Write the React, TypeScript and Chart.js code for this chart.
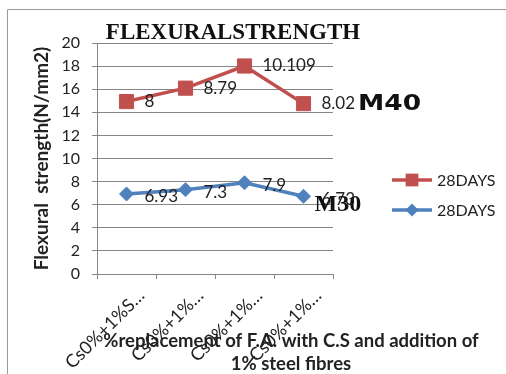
import React, { useEffect, useRef } from 'react';
import { Chart, registerables } from 'chart.js';

Chart.register(...registerables);

const categories = ['Cs0%+1%S…', 'Cs0%+1%…', 'Cs0%+1%…', 'Cs0%+1%…'];
const m30Values = [6.93, 7.3, 7.9, 6.73];
const m40Values = [8, 8.79, 10.109, 8.02];
const seriesNames = ['28DAYS', '28DAYS'];
const mixLabels = ['M30', 'M40'];
const yMin = 0;
const yMax = 20;
const yStep = 2;
const chartTitle = 'FLEXURALSTRENGTH';
const yTitle = 'Flexural  strength(N/mm2)';
const xTitleLines = ['%replacement of F.A. with C.S and addition of', '1% steel fibres'];

const BLUE = '#4F81BD';
const RED = '#C0504D';
const GRID = '#868686';
const TEXT = '#222222';
const SANS = 'Lato, "Open Sans", sans-serif';

function drawMarker(ctx: CanvasRenderingContext2D, style: string, x: number, y: number, r: number, color: string) {
  ctx.save();
  ctx.fillStyle = color;
  ctx.beginPath();
  if (style === 'rect') {
    const s = r * Math.SQRT1_2;
    ctx.rect(x - s, y - s, 2 * s, 2 * s);
  } else {
    ctx.moveTo(x, y - r);
    ctx.lineTo(x + r, y);
    ctx.lineTo(x, y + r);
    ctx.lineTo(x - r, y);
    ctx.closePath();
  }
  ctx.fill();
  ctx.restore();
}

const decorPlugin = {
  id: 'decor',
  beforeDraw(chart: any) {
    const ctx = chart.ctx;
    ctx.save();
    ctx.fillStyle = '#ffffff';
    ctx.fillRect(0, 0, chart.width, chart.height);
    ctx.strokeStyle = '#9a9a9a';
    ctx.lineWidth = 1;
    ctx.beginPath();
    ctx.moveTo(7.5, chart.height);
    ctx.lineTo(7.5, 9.5);
    ctx.lineTo(chart.width, 9.5);
    ctx.stroke();
    ctx.restore();
  },
  afterDatasetsDraw(chart: any) {
    const ctx = chart.ctx;
    ctx.save();
    ctx.font = `17px ${SANS}`;
    ctx.fillStyle = TEXT;
    ctx.textAlign = 'left';
    ctx.textBaseline = 'middle';
    chart.data.datasets.forEach((ds: any, di: number) => {
      const meta = chart.getDatasetMeta(di);
      meta.data.forEach((pt: any, i: number) => {
        ctx.fillText(String(ds.data[i]), pt.x + 18, pt.y + (di === 0 ? 3 : 0));
      });
    });
    // mix labels next to last points
    const nB = m30Values.length - 1;
    const nR = m40Values.length - 1;
    const lastBlue = chart.getDatasetMeta(0).data[nB];
    const lastRed = chart.getDatasetMeta(1).data[nR];
    const redLabelW = ctx.measureText(String(m40Values[nR])).width;
    ctx.fillStyle = '#111111';
    ctx.font = `bold 24px "Liberation Serif", serif`;
    ctx.fillText(mixLabels[0], lastBlue.x + 11, lastBlue.y + 9);
    ctx.save();
    ctx.font = `bold 22px "DejaVu Sans", sans-serif`;
    ctx.textBaseline = 'alphabetic';
    ctx.translate(lastRed.x + 18 + redLabelW + 3, lastRed.y + 6);
    ctx.scale(1.2, 1);
    ctx.fillText(mixLabels[1], 0, 0);
    ctx.restore();
    ctx.restore();
  },
  afterDraw(chart: any) {
    const ctx = chart.ctx;
    const area = chart.chartArea;
    ctx.save();
    // title
    ctx.fillStyle = '#111111';
    ctx.font = `bold 23px "Liberation Serif", serif`;
    ctx.textAlign = 'center';
    ctx.textBaseline = 'alphabetic';
    ctx.fillText(chartTitle, area.left + 136, area.top - 4);
    // x axis title
    ctx.fillStyle = TEXT;
    ctx.font = `bold 18.5px ${SANS}`;
    ctx.textBaseline = 'middle';
    const cx = area.right - 42;
    ctx.fillText(xTitleLines[0], cx, area.bottom + 67);
    ctx.fillText(xTitleLines[1], cx, area.bottom + 90);
    // legend
    const order = [1, 0];
    order.forEach((di, k) => {
      const ds = chart.data.datasets[di];
      const y = area.top + 137 + k * 30;
      const x0 = area.right + 59;
      ctx.strokeStyle = ds.borderColor;
      ctx.lineWidth = 3.5;
      ctx.beginPath();
      ctx.moveTo(x0, y);
      ctx.lineTo(x0 + 40, y);
      ctx.stroke();
      drawMarker(ctx, ds.pointStyle, x0 + 20, y, ds.pointStyle === 'rect' ? 9 : 6.5, ds.borderColor);
      ctx.fillStyle = TEXT;
      ctx.font = `16px ${SANS}`;
      ctx.textAlign = 'left';
      ctx.fillText(ds.label, x0 + 45, y + 1);
    });
    ctx.restore();
  },
};

export default function App() {
  const ref = useRef<HTMLCanvasElement | null>(null);
  useEffect(() => {
    if (!ref.current) return;
    const chart = new Chart(ref.current, {
      type: 'line',
      data: {
        labels: categories,
        datasets: [
          {
            label: seriesNames[1],
            data: m30Values,
            borderColor: BLUE,
            backgroundColor: BLUE,
            borderWidth: 3.5,
            pointStyle: 'rectRot',
            pointRadius: 7,
            pointBorderWidth: 1,
            pointBackgroundColor: BLUE,
            pointBorderColor: BLUE,
            fill: false,
            tension: 0,
          },
          {
            label: seriesNames[0],
            data: m40Values,
            borderColor: RED,
            backgroundColor: RED,
            borderWidth: 3.5,
            pointStyle: 'rect',
            pointRadius: 10,
            pointBorderWidth: 1,
            pointBackgroundColor: RED,
            pointBorderColor: RED,
            fill: false,
            tension: 0,
          },
        ],
      },
      options: {
        responsive: false,
        animation: false,
        devicePixelRatio: 1,
        layout: { padding: { left: 0, right: 173, top: 43, bottom: 0 } },
        plugins: {
          legend: { display: false },
          title: { display: false },
          tooltip: { enabled: false },
        },
        scales: {
          x: {
            type: 'category',
            offset: true,
            grid: { drawOnChartArea: false, drawTicks: true, tickLength: 5, color: GRID, offset: true },
            border: { display: true, color: GRID, width: 1 },
            ticks: {
              font: { family: SANS, size: 18 },
              color: TEXT,
              minRotation: 45,
              maxRotation: 45,
              autoSkip: false,
              padding: 6,
              labelOffset: 15,
            },
            afterFit: (s: any) => {
              s.height = 100;
            },
          },
          y: {
            stacked: true,
            min: yMin,
            max: yMax,
            ticks: {
              stepSize: yStep,
              font: { family: SANS, size: 16 },
              color: TEXT,
              padding: 12,
            },
            grid: { color: GRID, tickLength: 5, drawTicks: true },
            border: { display: true, color: GRID, width: 1 },
            title: {
              display: true,
              text: yTitle,
              font: { family: SANS, size: 19, weight: 'bold' },
              color: TEXT,
              padding: { top: 30, bottom: 0 },
            },
            afterFit: (s: any) => {
              s.width = 97;
            },
          },
        },
      },
      plugins: [decorPlugin],
    } as any);
    return () => chart.destroy();
  }, []);
  return (
    <div style={{ position: 'fixed', left: 0, top: 0, width: 506, height: 374 }}>
      <canvas ref={ref} width={506} height={374} style={{ width: 506, height: 374 }} />
    </div>
  );
}
